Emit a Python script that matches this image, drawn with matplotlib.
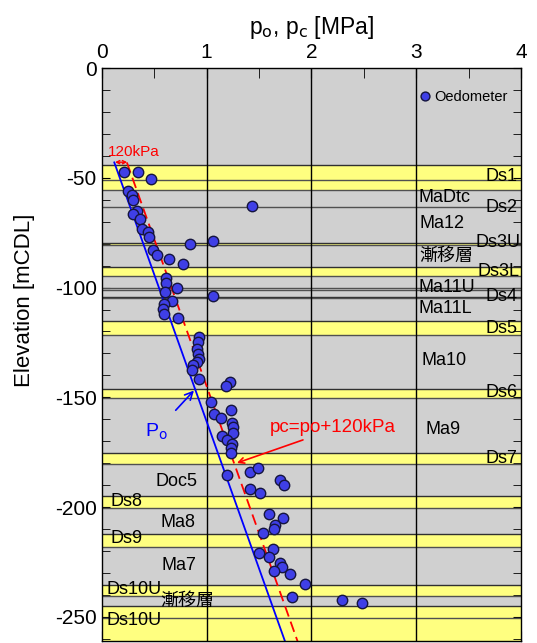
"""Preconsolidation pressure profile with oedometer results."""

import matplotlib
matplotlib.use('Agg')
from matplotlib import pyplot as plt
from matplotlib.ticker import MultipleLocator

plt.rcParams['font.family'] = ['Liberation Sans', 'Noto Sans CJK JP']
plt.rcParams['axes.unicode_minus'] = False

# oedometer results: pc [MPa] and elevation [mCDL]
oed_pc = [0.21, 0.35, 0.47, 0.25, 0.29, 0.30, 1.43, 0.34, 0.30, 0.37,
          0.38, 0.44, 0.45, 0.84, 1.06, 0.49, 0.53, 0.64, 0.78, 0.61,
          0.61, 0.72, 0.60, 1.06, 0.67, 0.59, 0.58, 0.59, 0.73, 0.93,
          0.92, 0.91, 0.92, 0.93, 0.91, 0.87, 0.86, 0.93, 1.22, 1.19,
          1.04, 1.07, 1.14, 1.23, 1.24, 1.25, 1.25, 1.15, 1.20, 1.24,
          1.23, 1.23, 1.41, 1.49, 1.20, 1.70, 1.74, 1.41, 1.51, 1.60,
          1.73, 1.65, 1.64, 1.54, 1.63, 1.50, 1.60, 1.70, 1.72, 1.64,
          1.80, 1.94, 1.82, 2.29, 2.48]
oed_elev = [-47.5, -47.5, -50.4, -56.0, -58.0, -60.0, -63.0, -65.0, -66.6, -68.9,
            -73.2, -74.8, -77.0, -80.1, -78.9, -82.9, -85.2, -87.0, -89.3, -95.8,
            -97.9, -100.0, -102.0, -103.8, -106.0, -107.6, -109.7, -111.9, -114.0, -122.6,
            -124.6, -128.1, -130.4, -132.4, -133.7, -135.2, -137.5, -141.8, -143.1, -144.9,
            -152.0, -157.4, -159.5, -155.9, -161.5, -163.3, -166.1, -167.7, -169.4, -171.2,
            -173.0, -175.2, -183.8, -182.0, -185.6, -187.5, -190.0, -191.9, -193.4, -203.0,
            -204.9, -208.0, -209.8, -211.7, -219.0, -220.9, -222.7, -225.3, -227.1, -228.9,
            -230.7, -235.1, -240.9, -242.4, -243.9]

# overburden line end points
po_elev = [-43.0, -262.0]
po_val = [0.12, 1.755]
pc_offset = 0.12  # MPa

# sand layers (top, bottom)
sand_top = [-44.1, -79.9, -90.5, -104.1, -115.3, -146.0, -175.5, -194.8, -212.3, -235.3, -245.1]
sand_bot = [-55.5, -80.8, -94.6, -104.9, -121.4, -150.5, -180.5, -200.6, -218.0, -240.3, -262.0]
extra_lines = [-50.9, -63.2, -100.3, -101.1, -250.6]

# layer names: text, x, elevation, alignment
layer_names = ['Ds1', 'MaDtc', 'Ds2', 'Ma12', 'Ds3U', '漸移層', 'Ds3L', 'Ma11U',
               'Ds4', 'Ma11L', 'Ds5', 'Ma10', 'Ds6', 'Ma9', 'Ds7',
               'Doc5', 'Ds8', 'Ma8', 'Ds9', 'Ma7', 'Ds10U', '漸移層', 'Ds10U']
layer_x = [3.97, 3.02, 3.97, 3.03, 4.0, 3.03, 3.99, 3.02,
           3.97, 3.02, 3.97, 3.05, 3.97, 3.09, 3.97,
           0.51, 0.08, 0.56, 0.08, 0.57, 0.05, 0.56, 0.05]
layer_y = [-49.5, -59.1, -63.4, -71.0, -79.5, -85.9, -92.7, -99.9,
           -104.1, -109.6, -118.5, -133.0, -147.9, -164.8, -177.7,
           -188.5, -197.6, -206.8, -214.5, -226.7, -237.6, -243.2, -251.7]
layer_ha = ['right', 'left', 'right', 'left', 'right', 'left', 'right', 'left',
            'right', 'left', 'right', 'left', 'right', 'left', 'right',
            'left', 'left', 'left', 'left', 'left', 'left', 'left', 'left']

fig = plt.figure(figsize=(5.37, 6.43), dpi=100)
ax = fig.add_axes([0.1894, 0.0031, 0.7808, 0.8911])
ax.set_facecolor('#d0d0d0')
ax.set_xlim(0, 4)
ax.set_ylim(-261, 0)

for top, bot in zip(sand_top, sand_bot):
    ax.axhspan(bot, top, color='#ffff80', lw=0, zorder=1)
    ax.axhline(top, color='#303030', lw=1, zorder=2)
    ax.axhline(bot, color='#505050', lw=1, zorder=2)
for yl in extra_lines:
    ax.axhline(yl, color='#505050', lw=1, zorder=2)

for xg in [1, 2, 3]:
    ax.axvline(xg, color='black', lw=1, zorder=2)

for name, xx, yy, ha in zip(layer_names, layer_x, layer_y, layer_ha):
    ax.text(xx, yy, name, ha=ha, va='center', fontsize=13, zorder=3)

# po and pc lines
pc_val = [v + pc_offset for v in po_val]
ax.plot(po_val, po_elev, color='blue', lw=1.3, zorder=4)
ax.plot(pc_val, po_elev, color='red', lw=1.3, ls=(0, (6, 3)), zorder=4)

ax.plot(oed_pc, oed_elev, 'o', ms=7.5, mfc='#3f3fe6', mec='#15153f', mew=1,
        ls='none', label='Oedometer', zorder=5)

# annotations
ax.annotate('', xy=(po_val[0] - 0.02, -42.9), xytext=(pc_val[0] + 0.03, -42.9),
            arrowprops=dict(arrowstyle='<->', color='red', lw=1, mutation_scale=6))
ax.text(0.31, -38.1, '120kPa', color='red', fontsize=11, ha='center', va='center')

ax.annotate('P$_\\mathrm{o}$', xy=(0.88, -146.9), xytext=(0.52, -165.5),
            color='blue', fontsize=14, ha='center', va='center',
            arrowprops=dict(arrowstyle='->', color='blue', lw=1.2,
                            shrinkA=8, shrinkB=0))
ax.annotate('', xy=(1.29, -179.9), xytext=(1.92, -169.4),
            arrowprops=dict(arrowstyle='->', color='red', lw=1.2, shrinkA=0, shrinkB=0))
ax.text(1.605, -163.9, 'pc=po+120kPa', color='red', fontsize=13.5, ha='left', va='center')

ax.legend(loc='upper right', bbox_to_anchor=(1.0, 0.985), frameon=False,
          fontsize=10.5, handlelength=1.0, handletextpad=0.15, markerscale=0.85)

ax.xaxis.set_label_position('top')
ax.xaxis.tick_top()
ax.set_xlabel('p$_\\mathrm{o}$, p$_\\mathrm{c}$ [MPa]', fontsize=16.5, labelpad=7)
ax.set_ylabel('Elevation [mCDL]', fontsize=16)
ax.yaxis.set_label_coords(-0.158, 0.595)
ax.xaxis.set_major_locator(MultipleLocator(1))
ax.xaxis.set_minor_locator(MultipleLocator(0.5))
ax.yaxis.set_major_locator(MultipleLocator(50))
ax.yaxis.set_minor_locator(MultipleLocator(10))
ax.tick_params(axis='x', which='both', direction='in', top=True, bottom=False,
               labelsize=15, length=7, pad=4)
ax.tick_params(axis='y', which='both', direction='in', left=True, right=True,
               labelsize=15, length=6)

# bottom axis carries its own division into six
bottom = ax.secondary_xaxis('bottom', functions=(lambda v: v * 1.5, lambda v: v / 1.5))
bottom.xaxis.set_major_locator(MultipleLocator(1))
bottom.tick_params(direction='in', length=7, labelbottom=False)

for s in ax.spines.values():
    s.set_linewidth(1)
    s.set_zorder(6)

fig.savefig('out.png', dpi=100)
